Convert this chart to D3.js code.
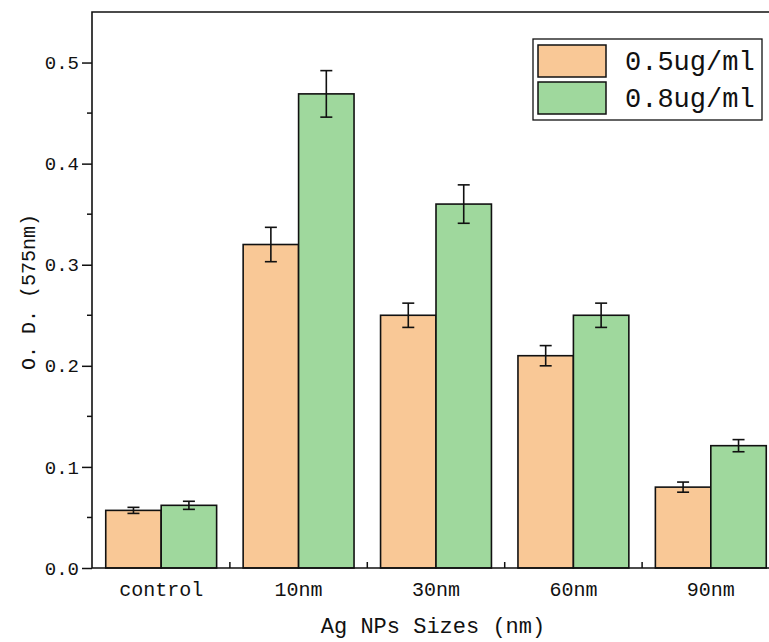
<!DOCTYPE html>
<html>
<head>
<meta charset="utf-8">
<script src="https://cdn.jsdelivr.net/npm/d3@7"></script>
<style>
  body { margin: 0; background: #fff; }
  svg text { font-family: "Liberation Mono", "DejaVu Sans Mono", monospace; fill: #111; }
</style>
</head>
<body>
<div id="chart"></div>
<script>
// Chart data
const categories = ["control", "10nm", "30nm", "60nm", "90nm"];
const seriesNames = ["0.5ug/ml", "0.8ug/ml"];
const values05 = [0.057, 0.32, 0.25, 0.21, 0.08];
const errors05 = [0.003, 0.017, 0.012, 0.010, 0.005];
const values08 = [0.062, 0.469, 0.36, 0.25, 0.121];
const errors08 = [0.004, 0.023, 0.019, 0.012, 0.006];
const yTicks = [0, 0.1, 0.2, 0.3, 0.4, 0.5];
const yTickLabels = ["0.0", "0.1", "0.2", "0.3", "0.4", "0.5"];

const seriesColors = { "0.5ug/ml": "#F9C896", "0.8ug/ml": "#9FD89D" };

const width = 769, height = 642;
const plot = { left: 92, right: 780, top: 12, bottom: 568 };

const svg = d3.select("#chart").append("svg")
    .attr("width", width)
    .attr("height", height);

const x = d3.scaleBand()
    .domain(categories)
    .range([plot.left, plot.right])
    .paddingInner(0.193)
    .paddingOuter(0.1);

const xSub = d3.scaleBand()
    .domain(seriesNames)
    .range([0, x.bandwidth()]);

const y = d3.scaleLinear()
    .domain([0, 0.55])
    .range([plot.bottom, plot.top]);

// rows for drawing
const rows = [];
categories.forEach((c, i) => {
    rows.push({ cat: c, series: seriesNames[0], value: values05[i], err: errors05[i] });
    rows.push({ cat: c, series: seriesNames[1], value: values08[i], err: errors08[i] });
});

// Bars
svg.append("g").selectAll("rect")
    .data(rows)
    .enter().append("rect")
    .attr("x", d => x(d.cat) + xSub(d.series))
    .attr("y", d => y(d.value))
    .attr("width", xSub.bandwidth())
    .attr("height", d => y(0) - y(d.value))
    .attr("fill", d => seriesColors[d.series])
    .attr("stroke", "#111")
    .attr("stroke-width", 1.6);

// Error bars
const cap = 6;
const eb = svg.append("g").attr("stroke", "#111").attr("stroke-width", 1.6);
rows.forEach(d => {
    const cx = x(d.cat) + xSub(d.series) + xSub.bandwidth() / 2;
    const y1 = y(d.value + d.err), y2 = y(d.value - d.err);
    eb.append("line").attr("x1", cx).attr("x2", cx).attr("y1", y1).attr("y2", y2);
    eb.append("line").attr("x1", cx - cap).attr("x2", cx + cap).attr("y1", y1).attr("y2", y1);
    eb.append("line").attr("x1", cx - cap).attr("x2", cx + cap).attr("y1", y2).attr("y2", y2);
});

// Y axis (outward ticks, minor ticks at 0.05)
const yAxis = svg.append("g")
    .attr("transform", `translate(${plot.left},0)`)
    .call(d3.axisLeft(y)
        .tickValues(yTicks)
        .tickFormat((d, i) => yTickLabels[i])
        .tickSize(10)
        .tickPadding(3));
yAxis.select(".domain").remove();
yAxis.selectAll("line").attr("stroke", "#111").attr("stroke-width", 1.5);
yAxis.selectAll("text")
    .style("font-size", "19px")
    .attr("fill", "#111");

const yMinor = [0.05, 0.15, 0.25, 0.35, 0.45];
svg.append("g").selectAll("line")
    .data(yMinor)
    .enter().append("line")
    .attr("x1", plot.left - 5)
    .attr("x2", plot.left)
    .attr("y1", d => y(d))
    .attr("y2", d => y(d))
    .attr("stroke", "#111")
    .attr("stroke-width", 1.5);

// X axis labels
const xAxis = svg.append("g")
    .attr("transform", `translate(0,${plot.bottom})`)
    .call(d3.axisBottom(x).tickSize(0).tickPadding(14));
xAxis.select(".domain").remove();
xAxis.selectAll("text").style("font-size", "20px").attr("fill", "#111");

// minor x ticks between groups, pointing up
const xMinor = categories.slice(1).map((c, i) => (x(categories[i]) + x.bandwidth() + x(c)) / 2);
svg.append("g").selectAll("line")
    .data(xMinor)
    .enter().append("line")
    .attr("x1", d => d)
    .attr("x2", d => d)
    .attr("y1", plot.bottom)
    .attr("y2", plot.bottom - 6)
    .attr("stroke", "#111")
    .attr("stroke-width", 1.5);

// Frame
svg.append("path")
    .attr("d", `M${plot.left},${plot.top}H${plot.right}V${plot.bottom}H${plot.left}Z`)
    .attr("fill", "none")
    .attr("stroke", "#111")
    .attr("stroke-width", 1.6);

// Axis titles
svg.append("text")
    .attr("x", (plot.left + plot.right) / 2 - 3)
    .attr("y", 633)
    .attr("text-anchor", "middle")
    .style("font-size", "22px")
    .text("Ag NPs Sizes (nm)");

svg.append("text")
    .attr("transform", `translate(35,292) rotate(-90)`)
    .attr("text-anchor", "middle")
    .style("font-size", "20px")
    .text("O. D. (575nm)");

// Legend
const legend = svg.append("g").attr("transform", "translate(533,39)");
legend.append("rect")
    .attr("width", 229)
    .attr("height", 81)
    .attr("fill", "#fff")
    .attr("stroke", "#111")
    .attr("stroke-width", 1.3);
seriesNames.forEach((s, i) => {
    legend.append("rect")
        .attr("x", 5)
        .attr("y", 6 + i * 37)
        .attr("width", 68)
        .attr("height", 32)
        .attr("fill", seriesColors[s])
        .attr("stroke", "#111")
        .attr("stroke-width", 1.5);
    legend.append("text")
        .attr("x", 92)
        .attr("y", 31 + i * 37)
        .style("font-size", "27px")
        .text(s);
});
</script>
</body>
</html>
